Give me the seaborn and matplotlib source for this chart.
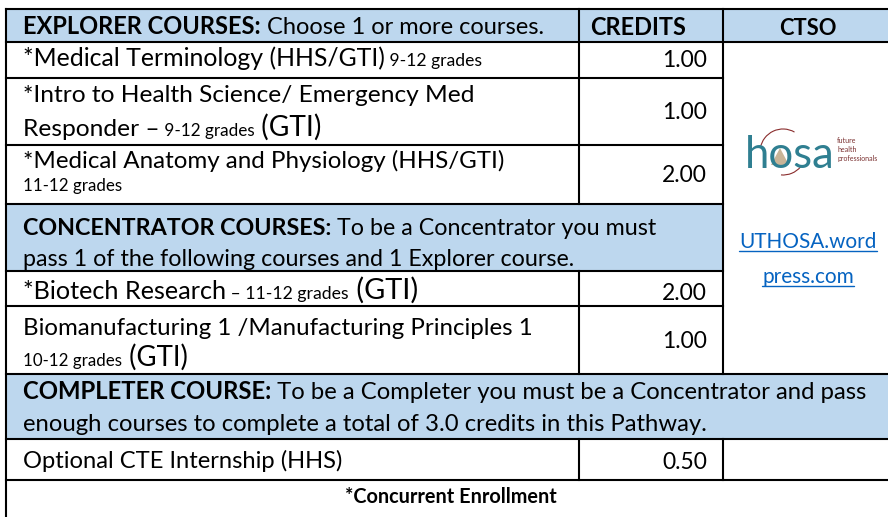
import matplotlib
matplotlib.use("Agg")
import matplotlib.pyplot as plt
import seaborn as sns
from matplotlib.patches import Rectangle, Polygon, Arc

# Table content
col_heads = ["CREDITS", "CTSO"]
section_heads = ["EXPLORER COURSES:", "CONCENTRATOR COURSES:", "COMPLETER COURSE:"]
section_notes = [
    ["Choose 1 or more courses."],
    ["To be a Concentrator you must",
     "pass 1 of the following courses and 1 Explorer course."],
    ["To be a Completer you must be a Concentrator and pass",
     "enough courses to complete a total of 3.0 credits in this Pathway."],
]
course_lines = [
    ["*Medical Terminology (HHS/GTI)"],
    ["*Intro to Health Science/ Emergency Med", "Responder \u2013"],
    ["*Medical Anatomy and Physiology (HHS/GTI)", ""],
    ["*Biotech Research"],
    ["Biomanufacturing 1 /Manufacturing Principles 1", ""],
    ["Optional CTE Internship (HHS)"],
]
course_grades = ["9-12 grades", "9-12 grades", "11-12 grades", "\u2013 11-12 grades", "10-12 grades", ""]
course_sites = ["", "(GTI)", "", "(GTI)", "(GTI)", ""]
credits = [1.00, 1.00, 2.00, 2.00, 1.00, 0.50]
ctso_link = ["UTHOSA.word", "press.com"]
logo_word = "hosa"
logo_tag = ["future", "health", "professionals"]
footnote = "*Concurrent Enrollment"

sns.set_theme(style="white")
plt.rcParams["font.family"] = ["Lato", "DejaVu Sans"]

blue = "#BDD7EE"
link_blue = "#0563C1"
teal = "#2F7F91"

fig = plt.figure(figsize=(8.88, 5.17), dpi=100)
ax = fig.add_axes([0, 0, 1, 1])
ax.set_xlim(0, 888)
ax.set_ylim(517, 0)
ax.axis("off")
rend = fig.canvas.get_renderer()


def put_runs(x, y, runs, size, ha="left", color="black"):
    texts = []
    cur = x
    for txt, scale, bold in runs:
        t = ax.text(cur, y, txt, fontsize=size * scale, color=color,
                    fontweight="bold" if bold else "normal", va="baseline", ha="left")
        cur += t.get_window_extent(renderer=rend).width
        texts.append(t)
    total = cur - x
    if ha != "left":
        shift = total if ha == "right" else total / 2
        for t in texts:
            t.set_x(t.get_position()[0] - shift)
    return texts, total


def fit_size(runs, target):
    texts, w = put_runs(0, 0, runs, 10)
    for t in texts:
        t.remove()
    return 10 * target / w


# grid
L, C1, C2, R = 6, 579, 723, 888
ys = [9, 42, 78, 145, 204, 271, 306, 374, 439, 480, 517]

for top, bot, right in [(ys[0], ys[1], R), (ys[4], ys[5], C2), (ys[7], ys[8], R)]:
    ax.add_patch(Rectangle((L, top), right - L, bot - top, facecolor=blue, lw=0))

hl = [(ys[0], L, R), (ys[1], L, R), (ys[2], L, C2), (ys[3], L, C2), (ys[4], L, C2),
      (ys[5], L, C2), (ys[6], L, C2), (ys[7], L, R), (ys[8], L, R), (ys[9], L, R)]
vl = [(L, ys[0], ys[10]), (C1, ys[0], ys[4]), (C1, ys[5], ys[7]), (C1, ys[8], ys[9]),
      (C2, ys[0], ys[7]), (C2, ys[8], ys[9])]
for y, x0, x1 in hl:
    ax.plot([x0, x1], [y, y], color="black", lw=1.5, solid_capstyle="projecting")
for x, y0, y1 in vl:
    ax.plot([x, x], [y0, y1], color="black", lw=1.5, solid_capstyle="projecting")

TX = 23

# section headers
sec_base = [[34], [235, 266], [399, 431]]
sec_target = [546, 657, 868]
for head, notes, base, tgt in zip(section_heads, section_notes, sec_base, sec_target):
    first = [(head, 1, True), (" " + notes[0], 1, False)]
    size = fit_size(first, tgt - TX)
    put_runs(TX, base[0], first, size)
    for note, b in zip(notes[1:], base[1:]):
        put_runs(TX, b, [(note, 1, False)], size)

# column headers
put_runs(638, 35, [(col_heads[0], 1, True)], fit_size([(col_heads[0], 1, True)], 96), ha="center")
put_runs(808, 35, [(col_heads[1], 1, True)], fit_size([(col_heads[1], 1, True)], 57), ha="center")

# course rows
course_base = [[66], [102, 136], [168, 191], [299], [335, 366], [468]]
course_target = [483, 473, 504, 420, 532, 343]
line_runs = []
for lines, grade, site in zip(course_lines, course_grades, course_sites):
    rows = [[(t, 1, False)] for t in lines[:-1]]
    last = []
    if lines[-1]:
        last.append((lines[-1], 1, False))
    if grade:
        last.append(((" " if last else "") + grade, 0.7, False))
    if site:
        last.append((" " + site, 1.15, False))
    rows.append(last)
    line_runs.append(rows)

for rows, base, tgt in zip(line_runs, course_base, course_target):
    size = fit_size(rows[0], tgt - TX)
    for runs, b in zip(rows, base):
        put_runs(TX, b, runs, size)

cred_base = [67, 119, 182, 300, 348, 469]
cred_size = fit_size([("1.00", 1, False)], 45)
for c, b in zip(credits, cred_base):
    put_runs(707, b, [(f"{c:.2f}", 1, False)], cred_size, ha="right")

# CTSO link
link_size = fit_size([(ctso_link[0], 1, False)], 137)
for txt, b in zip(ctso_link, [248, 283]):
    texts, w = put_runs(808, b, [(txt, 1, False)], link_size, ha="center", color=link_blue)
    ax.plot([808 - w / 2, 808 + w / 2], [b + 3, b + 3], color=link_blue, lw=1.0)

# hosa logo
logo_size = fit_size([(logo_word, 1, False)], 90)
put_runs(745, 168, [(logo_word, 1, False)], logo_size, color=teal)
ax.add_patch(Polygon([(771, 165), (789, 165), (780, 148)], closed=True,
                     facecolor="#C9B497", lw=0))
ax.add_patch(Arc((783, 152), 46, 46, theta1=190, theta2=300, color="#8A2D2D", lw=0.8))
ax.add_patch(Arc((783, 152), 46, 46, theta1=40, theta2=95, color="#8A2D2D", lw=0.8))
for txt, b in zip(logo_tag, [143, 152, 161]):
    ax.text(837, b, txt, fontsize=5, color="#7A3030", va="baseline", ha="left")

# footnote
foot_size = fit_size([(footnote, 1, True)], 212)
put_runs(451, 503, [(footnote, 1, True)], foot_size, ha="center")

fig.savefig("out.png", dpi=100)
